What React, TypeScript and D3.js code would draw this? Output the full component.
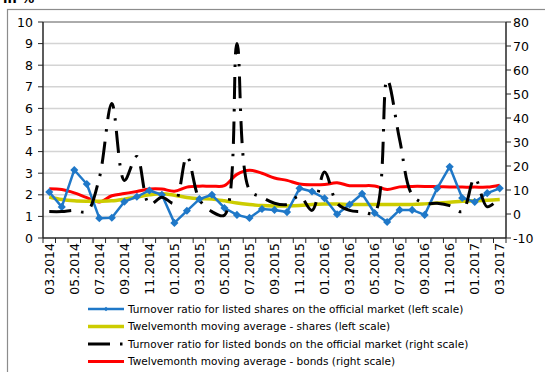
import React from "react";
import * as d3 from "d3";

const months = [
  "03.2014","04.2014","05.2014","06.2014","07.2014","08.2014","09.2014","10.2014","11.2014","12.2014",
  "01.2015","02.2015","03.2015","04.2015","05.2015","06.2015","07.2015","08.2015","09.2015","10.2015",
  "11.2015","12.2015","01.2016","02.2016","03.2016","04.2016","05.2016","06.2016","07.2016","08.2016",
  "09.2016","10.2016","11.2016","12.2016","01.2017","02.2017","03.2017",
];

const sharesTurnover = [
  2.13, 1.44, 3.15, 2.5, 0.92, 0.94, 1.68, 1.91, 2.2, 2.0,
  0.7, 1.26, 1.8, 2.0, 1.39, 1.07, 0.93, 1.34, 1.3, 1.2,
  2.3, 2.15, 1.84, 1.1, 1.55, 2.05, 1.16, 0.74, 1.3, 1.3,
  1.07, 2.3, 3.3, 1.85, 1.67, 2.08, 2.3,
];

const sharesMA = [
  1.9, 1.78, 1.72, 1.7, 1.7, 1.72, 1.8, 1.9, 2.0, 2.05,
  1.98, 1.88, 1.82, 1.8, 1.72, 1.62, 1.55, 1.5, 1.48, 1.48,
  1.5, 1.55, 1.57, 1.57, 1.55, 1.55, 1.55, 1.55, 1.55, 1.55,
  1.58, 1.62, 1.65, 1.7, 1.72, 1.75, 1.78,
];

const bondsTurnover = [
  1, 1, 1.5, 1, 15, 46, 14, 24, 4, 7,
  4.5, 24, 6, 1, -0.5, 71, 10, 7, 4.5, 4,
  7.5, 1.5, 17.5, 4.5, 1.5, 1, 0.5, 56, 31, 8,
  4.5, 4.5, 3.5, 1, 15, 3, 7,
];

const bondsMA = [
  10.5, 10.2, 8.8, 6.8, 5, 7.6, 8.5, 9.4, 10.4, 10.4,
  9.5, 11.2, 11.6, 11.6, 11.8, 16.5, 18.2, 17, 15, 14,
  12.5, 12.2, 12.3, 13, 11.8, 11.8, 11.7, 10.2, 11.3, 11.5,
  11.5, 11.4, 11.3, 11.2, 11.2, 11.2, 12,
];

const leftTicks = [0, 1, 2, 3, 4, 5, 6, 7, 8, 9, 10];
const rightTicks = [-10, 0, 10, 20, 30, 40, 50, 60, 70, 80];

const legendLabels = [
  "Turnover ratio for listed shares on the official market (left scale)",
  "Twelvemonth moving average - shares (left scale)",
  "Turnover ratio for listed bonds on the official market (right scale)",
  "Twelvemonth moving average - bonds (right scale)",
];

const W = 545;
const H = 372;
const L = 43;
const R = 506;
const T = 22;
const B = 238;
const FONT = "DejaVu Sans, Verdana, sans-serif";

const BLUE = "#1f78c8";
const YELLOW = "#cccc00";
const RED = "#ff0000";
const BLACK = "#000000";

export default function App() {
  const x = d3.scaleBand<string>().domain(months).range([L, R]).paddingInner(0).paddingOuter(0);
  const cx = (i: number) => (x(months[i]) as number) + x.bandwidth() / 2;
  const yL = d3.scaleLinear().domain([0, 10]).range([B, T]);
  const yR = d3.scaleLinear().domain([-10, 80]).range([B, T]);

  const lineStraight = (ys: number[], sc: d3.ScaleLinear<number, number>) =>
    d3.line<number>().x((_, i) => cx(i)).y((v) => sc(v))(ys) as string;
  const lineSmooth = (ys: number[], sc: d3.ScaleLinear<number, number>, alpha = 0.5) =>
    d3.line<number>().x((_, i) => cx(i)).y((v) => sc(v)).curve(d3.curveCatmullRom.alpha(alpha))(ys) as string;

  const diamond = d3.symbol().type(d3.symbolDiamond2).size(42)() as string;
  const diamondSmall = d3.symbol().type(d3.symbolDiamond2).size(14)() as string;

  const boundaries = d3.range(months.length + 1).map((i) => L + i * x.bandwidth());

  const legY = [309, 326.5, 344, 361.5];
  const legX0 = 88;
  const legX1 = 124;

  return (
    <svg width={W} height={H} style={{ position: "absolute", left: 0, top: 0, background: "#fff" }} fontFamily={FONT}>
      <rect x={0} y={0} width={W} height={H} fill="#fff" />
      <text x={3} y={3} fontSize={13} fontWeight="bold" fill="#000">in %</text>
      <rect x={7.5} y={9.5} width={W + 10} height={H + 10} fill="none" stroke="#8c8c8c" strokeWidth={1.2} />

      {/* gridlines */}
      {leftTicks.filter((t) => t > 0 && t < 10).map((t) => (
        <line key={"g" + t} x1={L} x2={R} y1={yL(t)} y2={yL(t)} stroke="#d4d4d4" strokeWidth={1.5} />
      ))}
      <line x1={L} x2={R} y1={T} y2={T} stroke="#595959" strokeWidth={1} />

      {/* axes */}
      <line x1={L} x2={L} y1={T} y2={B} stroke="#262626" strokeWidth={1.5} />
      <line x1={R} x2={R} y1={T} y2={B} stroke="#262626" strokeWidth={1.5} />
      <line x1={L} x2={R} y1={B} y2={B} stroke="#262626" strokeWidth={1.5} />
      {leftTicks.map((t) => (
        <g key={"l" + t}>
          <line x1={L - 5} x2={L} y1={yL(t)} y2={yL(t)} stroke="#262626" strokeWidth={1} />
          <text x={33} y={yL(t)} dy="0.36em" textAnchor="end" fontSize={12.5} fill="#000">{t}</text>
        </g>
      ))}
      {rightTicks.map((t) => (
        <g key={"r" + t}>
          <line x1={R} x2={R + 5} y1={yR(t)} y2={yR(t)} stroke="#262626" strokeWidth={1} />
          <text x={513} y={yR(t)} dy="0.36em" textAnchor="start" fontSize={12.5} fill="#000">{t}</text>
        </g>
      ))}
      {boundaries.map((bx, i) => (
        <line key={"t" + i} x1={bx} x2={bx} y1={B} y2={B + 5} stroke="#262626" strokeWidth={1} />
      ))}
      {months.map((m, i) =>
        i % 2 === 0 ? (
          <text
            key={"x" + m}
            transform={`translate(${cx(i)},${B + 5}) rotate(-90)`}
            textAnchor="end"
            dy="0.36em"
            fontSize={12.5}
            fill="#000"
          >
            {m}
          </text>
        ) : null
      )}

      {/* series */}
      <path d={lineSmooth(bondsMA, yR)} fill="none" stroke={RED} strokeWidth={3} />
      <path d={lineSmooth(sharesMA, yL)} fill="none" stroke={YELLOW} strokeWidth={3.5} />
      <path d={lineStraight(sharesTurnover, yL)} fill="none" stroke={BLUE} strokeWidth={2.5} strokeLinejoin="round" />
      {sharesTurnover.map((v, i) => (
        <path key={"m" + i} d={diamond} transform={`translate(${cx(i)},${yL(v)})`} fill={BLUE} />
      ))}
      <path
        d={lineSmooth(bondsTurnover, yR)}
        fill="none"
        stroke={BLACK}
        strokeWidth={3}
        strokeDasharray="22 10 2.5 10"
      />

      {/* legend */}
      <line x1={legX0} x2={legX1} y1={legY[0]} y2={legY[0]} stroke={BLUE} strokeWidth={2.5} />
      <path d={diamondSmall} transform={`translate(${(legX0 + legX1) / 2},${legY[0]})`} fill={BLUE} />
      <line x1={legX0} x2={legX1} y1={legY[1]} y2={legY[1]} stroke={YELLOW} strokeWidth={3.5} />
      <line x1={legX0} x2={legX1} y1={legY[2]} y2={legY[2]} stroke={BLACK} strokeWidth={3} strokeDasharray="22 10 2.5 10" />
      <line x1={legX0} x2={legX1} y1={legY[3]} y2={legY[3]} stroke={RED} strokeWidth={3} />
      {legendLabels.map((s, i) => (
        <text key={"lg" + i} x={128} y={legY[i]} dy="0.36em" fontSize={10.5} fill="#000">{s}</text>
      ))}
    </svg>
  );
}
